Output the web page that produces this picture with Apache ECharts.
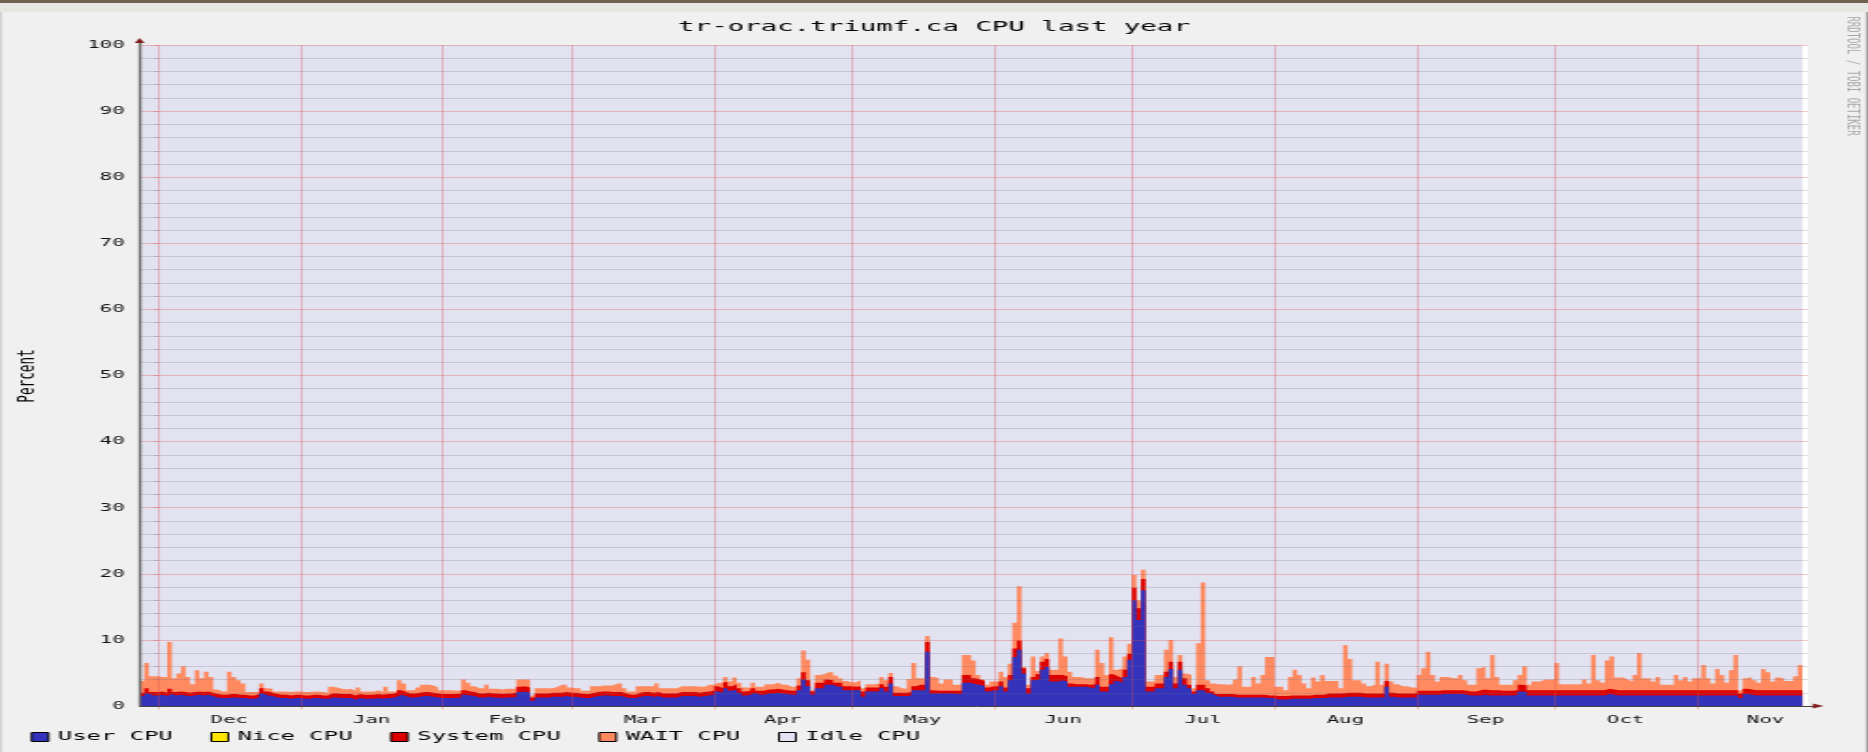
<!DOCTYPE html>
<html><head><meta charset="utf-8">
<script src="https://cdn.jsdelivr.net/npm/echarts@6/dist/echarts.min.js"></script>
<style>
html,body{margin:0;padding:0;background:#f0f0f0;overflow:hidden;width:1868px;height:752px}
#chart{position:absolute;left:0;top:0;width:994px;height:752px;transform:scaleX(1.87928);transform-origin:0 0}
</style></head>
<body><div id="chart"></div>
<script>
// ---- text ----
const chartTitle = 'tr-orac.triumf.ca CPU last year';
const yAxisName = 'Percent';
const watermark = 'RRDTOOL / TOBI OETIKER';
const seriesNames = ['User CPU', 'Nice CPU', 'System CPU', 'WAIT CPU', 'Idle CPU'];

// ---- time axis: days counted from 1 Dec ----
const monthNames = ['Dec','Jan','Feb','Mar','Apr','May','Jun','Jul','Aug','Sep','Oct','Nov'];
const monthDays  = [31,31,28,31,30,31,30,31,31,30,31,30];
const firstDay = -4;          // first daily sample (27 Nov)
const axisStart = -4, axisEnd = 359.2;
const yTicks = [0, 100, 10];  // min, max, step

// ---- daily averages, percent ----
const user = [
1.5,1.9,1.6,1.6,1.7,1.5,1.8,1.6,1.7,1.6,1.5,1.6,1.7,1.6,1.7,1.5,
1.3,1.2,1.2,1.3,1.3,1.2,1.2,1.1,1.1,1.3,1.9,1.6,1.5,1.3,1.2,1.2,1.1,1.2,1.2,1.1,1.1,1.2,1.2,1.1,1.1,
1.3,1.3,1.2,1.2,1.2,1.0,1.2,1.1,1.1,1.1,1.2,1.1,1.2,1.2,1.4,1.7,1.5,1.3,1.3,1.4,1.5,1.5,1.4,1.3,1.2,1.2,1.2,1.2,1.3,1.7,1.6,1.5,
1.3,1.3,1.4,1.3,1.3,1.2,1.3,1.3,1.4,2.1,2.2,2.0,0.8,1.3,1.3,1.3,1.4,1.4,1.4,1.5,1.4,1.4,1.3,1.2,1.2,1.4,1.5,1.6,1.6,1.5,1.5,1.5,1.3,1.2,1.2,1.4,1.5,1.5,1.4,1.5,1.3,1.3,1.3,1.3,1.5,1.5,1.5,1.5,1.4,1.5,1.6,1.7,2.2,2.0,2.7,2.3,2.5,2.0,1.6,1.7,2.0,1.7,1.7,1.9,1.9,2.0,1.9,1.8,1.7,1.7,2.4,4.0,3.0,
1.7,2.7,2.7,3.2,3.2,2.9,2.9,2.4,2.4,2.4,2.4,1.4,2.2,2.2,2.2,2.7,2.2,3.4,1.5,1.5,1.5,1.6,2.4,2.4,2.4,8.2,1.9,1.9,1.9,1.9,1.9,1.8,1.8,3.5,3.5,3.3,3.2,3.0,2.2,2.4,2.4,3.0,2.2,3.9,7.4,8.5,4.9,1.9,3.9,4.0,5.5,5.9,3.7,3.7,3.9,3.7,2.9,2.9,2.9,2.9,2.8,2.7,3.2,2.2,2.2,3.3,3.8,3.5,4.4,7.0,16.0,13.0,17.5,
2.2,2.2,2.7,2.7,4.4,5.6,2.7,5.5,3.2,2.7,1.8,2.4,2.4,2.0,1.7,1.4,1.4,1.4,1.4,1.3,1.3,1.3,1.3,1.3,1.3,1.3,1.2,1.2,1.0,1.0,1.0,1.1,1.1,1.1,1.1,1.1,1.2,1.2,1.2,1.3,1.3,1.3,1.3,1.4,1.4,1.4,1.4,1.3,1.3,1.3,1.3,1.3,2.9,1.4,1.3,1.3,1.3,1.3,1.3,1.7,1.7,1.7,1.7,1.7,1.8,1.8,1.8,1.8,1.8,1.7,1.6,1.6,
1.6,1.7,1.6,1.6,1.6,1.6,1.6,1.6,1.7,2.2,2.1,
1.6,1.6,1.6,1.6,1.6,1.6,1.6,1.6,1.6,1.6,1.6,1.6,1.6,1.6,1.6,1.6,1.6,
1.8,1.7,
1.6,1.6,1.6,1.6,1.6,1.6,1.6,1.6,1.6,1.6,1.6,1.6,1.6,1.6,1.6,1.6,1.6,1.6,1.6,1.6,1.6,1.6,1.6,1.6,1.6,1.6,1.6,
1.2,1.8,1.7,
1.6,1.6,1.6,1.6,1.6,1.6,1.6,1.6,1.6,1.6,1.6
];
const nice = [];
const system = [
0.5,0.8,0.5,0.5,0.5,0.5,0.8,0.5,0.5,0.5,0.5,0.5,0.5,0.5,0.5,0.5,
0.5,0.5,0.5,0.5,0.5,0.5,0.5,0.5,0.5,0.5,0.8,0.6,0.5,0.5,0.5,0.5,0.5,0.5,0.5,0.5,0.5,0.5,0.5,0.5,0.5,
0.6,0.6,0.6,0.6,0.6,0.6,0.6,0.6,0.6,0.6,0.6,0.6,0.6,0.6,0.6,0.7,0.6,0.6,0.6,0.6,0.6,0.6,0.6,0.6,0.6,0.6,0.6,0.6,0.6,0.7,0.6,0.6,
0.6,0.6,0.6,0.6,0.6,0.6,0.6,0.6,0.6,0.8,0.8,0.8,0.5,
0.6,0.6,0.6,0.6,0.6,0.6,0.6,0.6,0.6,0.6,0.6,0.6,0.6,0.6,0.6,0.6,0.6,0.6,0.6,0.6,
0.5,0.5,
0.6,0.6,0.6,0.6,0.6,0.6,0.6,0.6,0.6,0.6,0.6,0.6,0.6,0.6,0.6,0.6,0.6,
0.8,0.7,0.9,0.7,0.8,0.7,0.6,0.6,0.7,
0.6,0.6,0.6,0.6,0.6,0.6,0.6,0.6,0.6,
0.7,1.1,0.9,
0.5,0.8,0.8,0.8,0.7,0.6,0.6,0.6,0.6,0.5,0.6,0.8,0.6,0.6,0.6,0.6,0.7,1.0,0.5,0.5,0.5,0.5,0.6,0.8,0.8,1.5,0.5,0.4,0.4,0.4,0.4,0.5,0.5,1.2,1.2,0.9,0.8,0.8,0.6,0.6,0.6,0.7,0.6,0.8,1.3,1.4,0.8,0.8,0.5,0.8,1.2,1.2,1.0,1.0,0.8,0.8,0.5,0.4,0.4,0.4,0.4,0.6,1.2,0.7,0.7,1.5,0.7,0.7,1.1,0.9,1.9,1.8,1.7,
0.7,0.7,0.7,0.7,0.8,1.1,0.7,1.2,1.0,0.5,0.4,0.8,0.8,0.7,0.5,
0.4,0.4,0.4,0.4,0.4,0.4,0.4,0.4,0.4,0.4,0.4,0.4,0.4,
0.5,0.5,0.5,0.5,0.5,0.5,0.5,0.5,0.5,0.5,0.5,
0.6,0.6,0.6,0.6,0.6,0.6,0.6,0.6,0.6,0.6,0.6,0.6,0.6,
0.9,
0.6,0.6,0.6,0.6,0.6,0.6,0.6,0.6,0.6,0.6,0.6,0.6,0.6,0.6,0.6,0.6,0.6,0.6,0.6,
0.8,0.8,0.8,0.8,0.8,0.7,0.7,0.7,0.7,1.0,1.0,
0.8,0.8,0.8,0.8,0.8,0.8,0.8,0.8,0.8,0.8,
0.8,0.8,0.8,0.8,0.8,0.8,0.8,0.8,0.8,0.8,
0.8,0.8,0.8,0.8,0.8,0.8,0.8,0.8,0.8,0.8,
0.8,0.8,0.8,0.8,0.8,0.8,0.8,0.8,0.8,0.8,
0.8,0.8,0.8,0.8,0.8,0.8,
0.7,
0.8,0.8,0.8,0.8,0.8,0.8,0.8,0.8,0.8,0.8,0.8,0.8,0.8
];
const wait = [
1.8,3.8,2.4,2.4,2.2,2.4,7.1,2.1,2.7,3.9,2.4,1.2,3.2,2.1,3.0,2.4,
0.7,0.5,0.5,3.4,2.6,2.2,1.7,0.5,0.5,0.3,0.7,0.5,0.6,0.4,0.5,0.5,0.5,0.5,0.5,0.5,0.5,0.5,0.5,0.5,0.4,
1.0,0.9,0.8,0.7,0.8,0.7,1.0,0.5,0.5,0.5,0.6,0.4,1.1,0.4,0.2,1.5,1.3,0.5,0.5,0.8,1.1,1.1,1.1,0.9,0.6,0.6,0.6,0.5,0.5,1.6,1.3,0.9,
0.8,0.8,1.2,0.7,0.7,0.7,0.7,0.7,0.6,1.1,1.0,1.2,0.3,0.8,0.8,0.8,0.7,0.9,1.2,1.1,0.8,0.7,0.8,0.5,0.5,1.0,0.9,0.9,0.9,1.0,1.3,1.3,0.8,0.5,0.5,1.0,0.9,0.9,1.0,1.3,0.8,0.8,0.8,0.8,0.9,0.9,0.9,0.9,0.9,0.8,1.0,0.9,0.5,0.8,0.8,0.7,1.0,0.8,0.6,0.5,0.8,0.6,0.6,0.8,0.8,0.9,0.7,0.8,0.6,0.6,1.1,3.3,3.1,
0.2,1.2,1.3,1.1,1.2,1.1,0.7,0.8,0.6,0.7,0.9,0.5,0.5,0.5,0.6,1.1,1.0,0.6,1.0,0.7,0.6,2.0,3.5,1.0,1.0,0.9,2.0,1.9,1.1,1.7,1.7,0.9,0.9,3.0,3.0,2.7,0.7,0.2,0.4,0.7,0.7,1.5,1.6,1.7,3.9,8.2,0.2,0.5,3.1,0.5,0.8,0.9,0.8,0.8,5.5,3.0,1.8,1.1,1.1,0.9,1.0,0.9,4.1,3.6,1.8,5.6,1.0,1.5,2.0,1.5,1.9,1.2,1.4,
0.8,0.8,1.3,1.3,3.3,3.3,1.0,1.0,0.7,1.5,0.5,6.3,15.5,1.2,1.2,1.5,1.5,1.4,1.5,2.3,4.3,1.2,1.2,2.7,1.7,3.0,5.8,5.8,1.4,1.4,0.9,2.8,3.9,3.1,1.8,1.1,2.6,2.0,3.0,1.9,1.9,1.9,0.8,7.2,5.1,1.9,1.9,1.5,1.1,1.3,4.8,1.3,2.6,1.7,1.4,1.1,1.1,0.9,0.9,2.4,3.4,5.9,2.4,1.4,2.0,2.0,1.8,1.8,2.3,1.6,1.0,1.0,
3.3,3.5,1.8,5.3,2.0,0.9,0.9,0.9,1.5,1.5,2.9,0.8,1.3,1.3,1.6,1.6,1.6,4.1,0.9,0.9,0.9,0.9,0.9,1.6,1.0,5.3,1.5,1.1,4.3,5.0,1.9,1.9,1.6,1.3,2.3,5.6,1.8,1.8,1.3,2.0,0.8,0.8,0.8,2.3,1.5,2.0,1.3,1.8,1.8,3.8,1.8,1.0,3.2,2.3,1.1,3.0,5.3,0.5,1.6,1.9,1.5,1.1,3.2,2.7,1.3,1.9,1.8,1.4,1.4,2.1,3.8
];

// ---- colours ----
const colors = {user:'#3333bb', nice:'#ffe600', system:'#dd0000', wait:'#ff8a60', idle:'#e2e2f0'};

if (user.length !== system.length || user.length !== wait.length) {
  throw new Error('length mismatch user=' + user.length + ' system=' + system.length + ' wait=' + wait.length);
}

// cumulative tops of the stacked layers (idle fills the remainder up to 100 %)
const r2 = v => Math.round(v * 100) / 100;
const topUser   = user.map(v => v);
const topNice   = user.map((u, i) => r2(u + (nice[i] || 0)));
const topSystem = topNice.map((v, i) => r2(v + system[i]));
const topWait   = topSystem.map((v, i) => r2(v + wait[i]));
const topIdle   = topWait.map(v => r2(v + (100 - v)));

// step points: each value holds for one day; a closing point ends the last day
function steps(arr) {
  if (!arr.length) return [];
  const pts = arr.map((v, i) => [firstDay + i, v]);
  pts.push([firstDay + arr.length, arr[arr.length - 1]]);
  return pts;
}

const monthStarts = [];
let acc = 0;
monthDays.forEach(d => { monthStarts.push(acc); acc += d; });
const monthMids = monthStarts.map((s, i) => s + monthDays[i] / 2);

const MONO = "'DejaVu Sans Mono', monospace";
const gridMajor = 'rgba(222,79,79,0.32)';
const gridMinor = 'rgba(110,110,130,0.24)';

// layers are drawn back to front, each filling down to 0
function areaSeries(name, data, color, z) {
  return {
    name, type: 'line', step: 'end', data: steps(data),
    xAxisIndex: 0, yAxisIndex: 0,
    symbol: 'none', showSymbol: false, silent: true,
    lineStyle: {width: 0}, itemStyle: {color},
    areaStyle: {color, opacity: 1, origin: 'start'}, emphasis: {disabled: true}, z
  };
}

const chart = echarts.init(document.getElementById('chart'), null, {renderer: 'canvas'});
chart.setOption({
  animation: false,
  backgroundColor: '#f0f0f0',
  title: {
    text: chartTitle, left: 'center', top: 15,
    textStyle: {fontFamily: MONO, fontSize: 14.6, fontWeight: 'normal', color: '#000'}
  },
  legend: {
    left: 11.3, top: 725, itemWidth: 9, itemHeight: 9, itemGap: 20, icon: 'rect',
    selectedMode: false,
    itemStyle: {borderColor: '#000', borderWidth: 1},
    textStyle: {fontFamily: MONO, fontSize: 12.7, color: '#000', lineHeight: 14},
    data: seriesNames
  },
  grid: [
    {left: 74.3, top: 45, width: 887.7, height: 661, show: true, backgroundColor: '#ffffff', borderWidth: 0},
    {left: 74.3, top: 43, width: 890.3, height: 663, show: false}
  ],
  xAxis: [
    {
      gridIndex: 0, type: 'value', min: axisStart, max: axisEnd, position: 'bottom', z: 10,
      axisLine: {show: false},
      axisTick: {show: true, length: 3.5, customValues: monthStarts, lineStyle: {color: gridMajor}},
      splitLine: {show: true, lineStyle: {color: gridMajor, width: 1}},
      axisLabel: {
        show: true, customValues: monthMids, margin: 8.5,
        fontFamily: MONO, fontSize: 11, color: '#111',
        formatter: v => { const i = monthMids.findIndex(m => Math.abs(m - v) < 1e-6); return i >= 0 ? monthNames[i] : ''; }
      }
    },
    {
      gridIndex: 1, type: 'value', min: 0, max: 1, position: 'bottom', z: 11,
      axisLine: {show: true, onZero: false, lineStyle: {color: '#4a4040', width: 1}},
      axisTick: {show: false}, axisLabel: {show: false}, splitLine: {show: false}
    },
    {
      gridIndex: 1, type: 'value', min: 0, max: 1, position: 'bottom', z: 12,
      axisLine: {show: true, onZero: false, symbol: ['none', 'triangle'], symbolSize: [5, 5.8], symbolOffset: [0, 2.9],
        lineStyle: {color: '#801f1f', width: 0}},
      axisTick: {show: false}, axisLabel: {show: false}, splitLine: {show: false}
    }
  ],
  yAxis: [
    {
      gridIndex: 0, type: 'value', min: yTicks[0], max: yTicks[1], interval: yTicks[2], position: 'left', z: 10,
      axisLine: {show: false},
      axisTick: {show: true, length: 2.4, lineStyle: {color: gridMajor}},
      minorTick: {show: true, splitNumber: 5, length: 2.4, lineStyle: {color: gridMinor}},
      splitLine: {show: true, lineStyle: {color: gridMajor, width: 1}},
      minorSplitLine: {show: true, lineStyle: {color: gridMinor, width: 1}},
      axisLabel: {margin: 8, fontFamily: MONO, fontSize: 11, color: '#111'}
    },
    {
      gridIndex: 1, type: 'value', min: 0, max: 1, position: 'left', z: 11,
      axisLine: {show: true, onZero: false, lineStyle: {color: '#666', width: 1.4}},
      axisTick: {show: false}, axisLabel: {show: false}, splitLine: {show: false}
    },
    {
      gridIndex: 1, type: 'value', min: 0, max: 1, position: 'left', z: 12,
      axisLine: {show: true, onZero: false, symbol: ['none', 'triangle'], symbolSize: [5.3, 5], symbolOffset: [0, 2.5],
        lineStyle: {color: '#801f1f', width: 0}},
      axisTick: {show: false}, axisLabel: {show: false}, splitLine: {show: false}
    }
  ],
  series: [
    areaSeries(seriesNames[0], topUser, colors.user, 7),
    areaSeries(seriesNames[1], nice.length ? topNice : [], colors.nice, 6),
    areaSeries(seriesNames[2], topSystem, colors.system, 5),
    areaSeries(seriesNames[3], topWait, colors.wait, 4),
    areaSeries(seriesNames[4], topIdle, colors.idle, 3)
  ],
  graphic: [
    {type: 'rect', left: 0, top: 0, shape: {width: 994, height: 3}, style: {fill: '#6e6150'}, silent: true},
    {type: 'rect', left: 0, top: 3, shape: {width: 994, height: 9}, style: {fill: '#e8e6e1'}, silent: true},
    {type: 'rect', left: 0, top: 12, shape: {width: 1.1, height: 740}, style: {fill: '#d2d2d2'}, silent: true},
    {type: 'rect', left: 992.9, top: 12, shape: {width: 1.1, height: 740}, style: {fill: '#a0a0a0'}, silent: true},
    {type: 'text', x: 14.4, y: 376, rotation: Math.PI / 2, silent: true,
      style: {text: yAxisName, font: '12.7px ' + MONO, fill: '#000', textAlign: 'center', textVerticalAlign: 'middle'}},
    {type: 'text', x: 985, y: 76, rotation: -Math.PI / 2, silent: true,
      style: {text: watermark, font: '9px ' + MONO, fill: '#a8a8a8', textAlign: 'center', textVerticalAlign: 'middle'}}
  ]
});
</script>
</body></html>
